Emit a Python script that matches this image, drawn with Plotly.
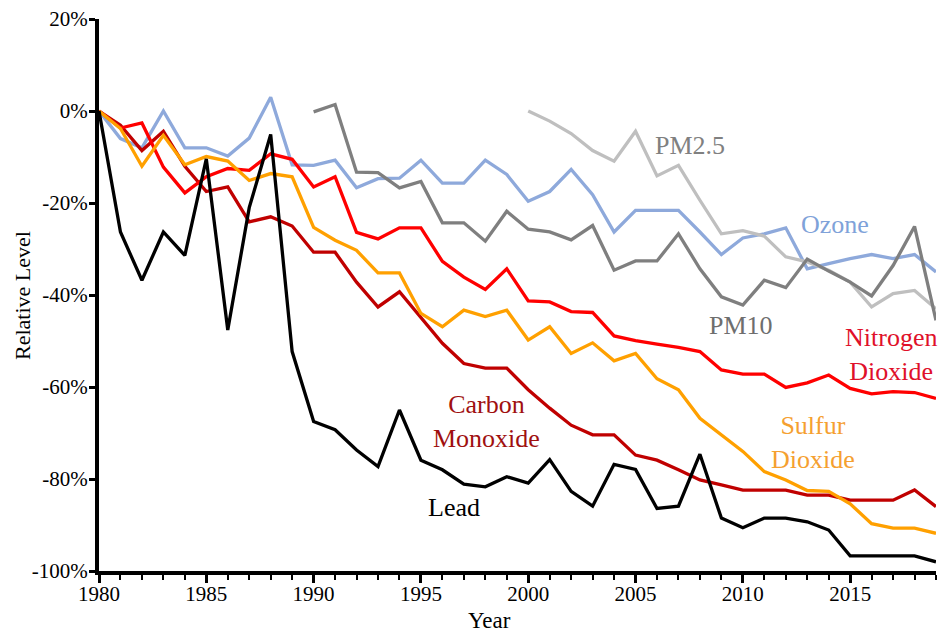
import plotly.graph_objects as go

years = list(range(1980, 2020))
years_pm10 = list(range(1990, 2020))
years_pm25 = list(range(2000, 2020))

ozone = [0, -6, -8, 0, -8, -8, -9.8, -5.9, 3, -11.7,
         -11.8, -10.7, -16.7, -14.7, -14.6, -10.7, -15.7, -15.7, -10.7, -13.8,
         -19.6, -17.5, -12.7, -18.2, -26.3, -21.6, -21.6, -21.6, -26.3, -31.2,
         -27.6, -26.7, -25.4, -34.3, -33.2, -32.1, -31.2, -32.1, -31.2, -35.0]

no2 = [0, -3.7, -2.6, -12.2, -17.8, -14.3, -12.5, -12.9, -9.3, -10.5,
       -16.5, -14.3, -26.4, -27.8, -25.4, -25.4, -32.7, -36.1, -38.8, -34.3,
       -41.3, -41.5, -43.6, -43.8, -48.9, -49.9, -50.7, -51.4, -52.3, -56.3,
       -57.2, -57.2, -60.1, -59.1, -57.4, -60.3, -61.5, -61.0, -61.2, -62.5]

so2 = [0, -3.8, -12.0, -5.3, -11.7, -9.9, -10.9, -15.1, -13.6, -14.3,
       -25.3, -28.1, -30.3, -35.2, -35.2, -44.0, -46.9, -43.3, -44.7, -43.3,
       -49.8, -46.9, -52.7, -50.4, -54.3, -52.7, -58.2, -60.6, -66.8, -70.4,
       -74.0, -78.4, -80.2, -82.5, -82.7, -85.4, -89.7, -90.7, -90.7, -91.8]

co = [0, -3.1, -8.6, -4.4, -12.0, -17.5, -16.5, -24.1, -23.0, -25.0,
      -30.7, -30.7, -37.2, -42.6, -39.3, -45.0, -50.5, -54.9, -55.9, -55.9,
      -60.6, -64.6, -68.3, -70.4, -70.4, -74.8, -75.9, -78.0, -80.2, -81.3,
      -82.4, -82.4, -82.4, -83.5, -83.5, -84.6, -84.6, -84.6, -82.4, -86.0]

lead = [0, -26.3, -36.8, -26.3, -31.4, -10.4, -47.6, -21.0, -5.1, -52.3,
        -67.5, -69.3, -73.7, -77.3, -65.0, -75.9, -78.0, -81.1, -81.7, -79.5,
        -80.9, -75.8, -82.7, -85.9, -76.8, -77.9, -86.4, -85.9, -74.6, -88.5,
        -90.6, -88.5, -88.5, -89.3, -91.1, -96.7, -96.7, -96.7, -96.7, -98.0]

pm10 = [-0.2, 1.4, -13.3, -13.4, -16.7, -15.3, -24.3, -24.3, -28.3, -21.8,
        -25.7, -26.3, -28.0, -24.9, -34.6, -32.6, -32.6, -26.7, -34.3, -40.4,
        -42.2, -36.8, -38.4, -32.2, -34.8, -37.2, -40.2, -33.6, -25.1, -45.5]

pm25 = [0, -2.2, -4.9, -8.6, -10.9, -4.4, -14.1, -11.8, -19.4, -26.7,
        -26.0, -27.2, -31.7, -32.8, -34.6, -37.2, -42.6, -39.7, -39.0, -43.0]

y_tickvals = [20, 0, -20, -40, -60, -80, -100]
y_ticktext = ["20%", "0%", "-20%", "-40%", "-60%", "-80%", "-100%"]
grid_vals = [0, -20, -40, -60, -80]
x_tickvals = [1980, 1985, 1990, 1995, 2000, 2005, 2010, 2015]

FONT = "Times New Roman, Liberation Serif, Tinos, DejaVu Serif, serif"

series = [
    ("Ozone", years, ozone, "#8EA9DB"),
    ("PM2.5", years_pm25, pm25, "#BFBFBF"),
    ("PM10", years_pm10, pm10, "#7F7F7F"),
    ("Carbon Monoxide", years, co, "#C00000"),
    ("Nitrogen Dioxide", years, no2, "#FF0000"),
    ("Sulfur Dioxide", years, so2, "#FFA000"),
    ("Lead", years, lead, "#000000"),
]

fig = go.Figure()
for name, xs, ys, col in series:
    fig.add_trace(go.Scatter(x=xs, y=ys, mode="lines", name=name,
                             line=dict(color=col, width=3.3)))

labels = [
    ("PM2.5", 2007.55, -7.4, "#808080"),
    ("Ozone", 2014.3, -24.6, "#7FA2D9"),
    ("PM10", 2009.9, -46.6, "#6E6E6E"),
    ("Nitrogen<br>Dioxide", 2016.9, -53.0, "#E0102A"),
    ("Sulfur<br>Dioxide", 2013.27, -72.0, "#F5A030"),
    ("Carbon<br>Monoxide", 1998.05, -67.4, "#A01010"),
    ("Lead", 1996.52, -86.1, "#000000"),
]
for text, lx, ly, col in labels:
    fig.add_annotation(x=lx, y=ly, xref="x", yref="y", text=text, showarrow=False,
                       font=dict(family=FONT, size=26, color=col),
                       xanchor="center", yanchor="middle", align="center")

fig.add_annotation(x=0.467, y=-0.063, xref="paper", yref="paper", text="Year",
                   showarrow=False, font=dict(family=FONT, size=23, color="black"),
                   xanchor="center", yanchor="top")
fig.add_annotation(x=-0.092, y=0.50, xref="paper", yref="paper", text="Relative Level",
                   showarrow=False, textangle=-90,
                   font=dict(family=FONT, size=22, color="black"),
                   xanchor="center", yanchor="middle")

fig.update_layout(
    width=940, height=633,
    margin=dict(l=99, r=4, t=19, b=62),
    plot_bgcolor="white", paper_bgcolor="white",
    showlegend=False,
    font=dict(family=FONT, size=21, color="black"),
    xaxis=dict(range=[1980, 2019], tickvals=x_tickvals, showgrid=False, zeroline=False,
               showline=True, linewidth=4, linecolor="black",
               ticks="outside", ticklen=8, tickwidth=3, tickcolor="black",
               ticklabelstandoff=-7,
               minor=dict(dtick=1, ticks="outside", ticklen=5, tickwidth=2,
                          tickcolor="black", showgrid=False),
               tickfont=dict(family=FONT, size=21, color="black")),
    yaxis=dict(range=[-100, 20], tickvals=y_tickvals, ticktext=y_ticktext,
               showgrid=False, zeroline=False, ticklabeloverflow="allow",
               ticklabelstandoff=-3,
               showline=True, linewidth=4, linecolor="black",
               ticks="outside", ticklen=6, tickwidth=3, tickcolor="black",
               tickfont=dict(family=FONT, size=21, color="black")),
    yaxis2=dict(range=[-100, 20], overlaying="y", anchor="x", tickvals=grid_vals,
                showgrid=True, gridcolor="#8C8C8C", gridwidth=1.5,
                showticklabels=False, ticks="", showline=False, zeroline=False),
)

fig.write_html(
    "out.html",
    config={"displayModeBar": False},
    post_script="document.body.style.margin='0';document.body.style.overflow='hidden';",
)
